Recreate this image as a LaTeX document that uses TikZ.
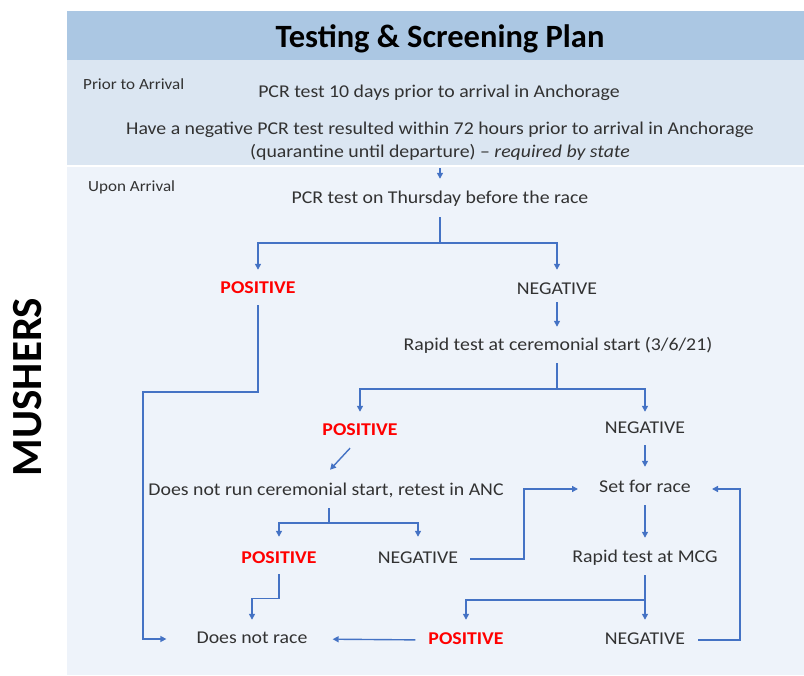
\documentclass[tikz,border=0pt]{standalone}
\usepackage{fontspec}
\setmainfont{Carlito}[FakeStretch=1.1]
\newfontfamily\titlefont{Carlito}
\usetikzlibrary{arrows.meta,calc}
\definecolor{hdr}{RGB}{171,199,227}
\definecolor{priorbg}{RGB}{219,230,242}
\definecolor{lowerbg}{RGB}{238,243,250}
\definecolor{arrblue}{RGB}{68,114,196}
\definecolor{txtgray}{RGB}{50,50,50}
\definecolor{posred}{RGB}{255,0,0}
\begin{document}
\begin{tikzpicture}[x=1pt,y=-1pt,
  txt/.style={inner sep=0pt,text height=12pt,text depth=4pt,anchor=base,text=txtgray,font=\fontsize{18}{22}\selectfont},
  small/.style={inner sep=0pt,anchor=base west,text=txtgray,font=\fontsize{15.5}{17}\selectfont},
  posbox/.style={txt,text=posred,font=\fontsize{18}{22}\selectfont\bfseries},
  ln/.style={draw=arrblue,line width=1.4pt},
  arr/.style={ln,-{Triangle[length=6pt,width=6pt]}}]
\path[use as bounding box,fill=white] (0,0) rectangle (804,676);
\fill[hdr] (67,11) rectangle (804,60);
\fill[priorbg] (67,60) rectangle (804,165);
\fill[lowerbg] (67,167) rectangle (804,675);
% texts
\node[inner sep=0pt,anchor=base,font=\titlefont\fontsize{32.5}{36}\selectfont\bfseries] (title) at (440,48) {Testing \& Screening Plan};
\node[small] (prior) at (83,90) {Prior to Arrival};
\node[small] (upon) at (88,192) {Upon Arrival};
\node[txt] (pcr1) at (439,98) {PCR test 10 days prior to arrival in Anchorage};
\node[txt] (have1) at (440,135) {Have a negative PCR test resulted within 72 hours prior to arrival in Anchorage};
\node[txt] (have2) at (440,158) {(quarantine until departure) -- \textit{required by state}};
\node[txt] (pcr2) at (440,204) {PCR test on Thursday before the race};
\node[posbox] (pos1) at (258,294) {POSITIVE};
\node[txt] (neg1) at (557,295) {NEGATIVE};
\node[txt] (rapid1) at (558,351) {Rapid test at ceremonial start (3/6/21)};
\node[posbox] (pos2) at (360,436) {POSITIVE};
\node[txt] (neg2) at (645,434) {NEGATIVE};
\node[txt] (dnr1) at (326,495) {Does not run ceremonial start, retest in ANC};
\node[txt] (set) at (645,493) {Set for race};
\node[posbox] (pos3) at (279,563) {POSITIVE};
\node[txt] (neg3) at (418,563) {NEGATIVE};
\node[txt] (mcg) at (645,562) {Rapid test at MCG};
\node[posbox] (pos4) at (466,644) {POSITIVE};
\node[txt] (neg4) at (645,644) {NEGATIVE};
\node[txt] (dnr2) at (252,643) {Does not race};
\node[rotate=90,inner sep=0pt,font=\titlefont\fontsize{43}{46}\selectfont\bfseries] (mush) at (28,387) {MUSHERS};
% junctions
\coordinate (b1) at (440,243);
\coordinate (b2) at (557,389);
\coordinate (b3) at (329,523);
\coordinate (b4) at (645,600);
\coordinate (c1) at (143,392);
\coordinate (c3) at (524,0);
\coordinate (c4) at (740,0);
% connectors
\draw[arr,shorten <=6pt,shorten >=13pt] (have2.south) -- (pcr2.north);
\draw[ln,shorten <=9pt] (pcr2.south) -- (b1);
\draw[arr,shorten >=12pt] (b1) -| (pos1.north);
\draw[arr,shorten >=13pt] (b1) -| (neg1.north);
\draw[arr,shorten <=7pt,shorten >=30pt] (pos1.south) |- (c1) |- (dnr2.west);
\draw[arr,shorten <=3pt,shorten >=12pt] (neg1.south) -- (rapid1.north -| neg1.south);
\draw[ln,shorten <=8pt] (rapid1.south -| b2) -- (b2);
\draw[arr,shorten >=12pt] (b2) -| (pos2.north);
\draw[arr,shorten >=10pt] (b2) -| (neg2.north);
\draw[arr] ([xshift=-10pt,yshift=-8pt]pos2.south) -- ([xshift=4pt,yshift=13pt]dnr1.north);
\draw[arr,shorten <=7pt,shorten >=14pt] (neg2.south) -- (set.north);
\draw[ln,shorten <=9pt] (dnr1.south -| b3) -- (b3);
\draw[arr,shorten >=14pt] (b3) -| (pos3.north);
\draw[arr,shorten >=14pt] (b3) -| (neg3.north);
\draw[arr,shorten <=7pt,shorten >=11pt] (pos3.south) -- ++(0,31) -| (dnr2.north);
\draw[arr,shorten <=12pt,shorten >=21pt] (neg3.east) -- (neg3.east -| c3) |- (set.west);
\draw[arr,shorten <=8pt,shorten >=12pt] (set.south) -- (mcg.north);
\draw[ln,shorten <=9pt] (mcg.south) -- (b4);
\draw[arr,shorten >=12pt] (b4) -| (pos4.north);
\draw[arr,shorten >=12pt] (b4) -| (neg4.north);
\draw[arr,shorten <=13pt,shorten >=25pt] (pos4.west) -- (dnr2.east);
\draw[arr,shorten <=13pt,shorten >=21pt] (neg4.east) -- (neg4.east -| c4) |- (set.east);
\end{tikzpicture}
\end{document}
